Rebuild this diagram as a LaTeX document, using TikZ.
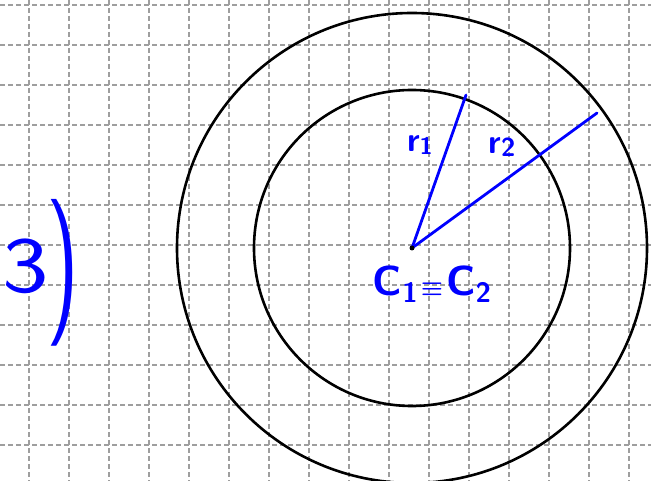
\documentclass[tikz,border=0pt]{standalone}
\usepackage{graphicx}
\begin{document}
\begin{tikzpicture}[x=1pt,y=-1pt,
  gridline/.style={draw=black!38,line width=1.6pt,dash pattern=on 5pt off 3pt},
  ring/.style={draw=black,line width=2.6pt},
  rline/.style={draw=blue,line width=2.8pt,line cap=round},
  hand/.style={text=blue,inner sep=0pt}]
\useasboundingbox (0,0) rectangle (651,481);
\fill[white] (0,0) rectangle (651,481);
\foreach \x in {29,69,...,629} \draw[gridline] (\x,0) -- (\x,481);
\foreach \y in {5,45,...,445} \draw[gridline] (0,\y) -- (651,\y);
\coordinate (O) at (412,248);
\draw[ring] (O) circle[radius=158pt];
\draw[ring] (O) circle[radius=235pt];
\coordinate (P1) at (466,95);
\coordinate (P2) at (597,113);
\draw[rline] (O) -- (P1);
\draw[rline] (O) -- (P2);
\fill (O) circle[radius=2.5pt];
\node[hand,font=\sffamily\bfseries\fontsize{34}{34}\selectfont] (r1) at (420,145)
  {r\raisebox{-3pt}{\fontsize{24}{24}\selectfont 1}};
\node[hand,font=\sffamily\bfseries\fontsize{34}{34}\selectfont] (r2) at (502,147)
  {r\raisebox{-3pt}{\fontsize{26}{26}\selectfont 2}};
\node[hand,font=\sffamily\bfseries\fontsize{42}{42}\selectfont] (c) at (432,284)
  {C\raisebox{-7pt}{\fontsize{28}{28}\selectfont 1}\kern3pt{\fontsize{50}{50}\selectfont\boldmath$\equiv$}\kern3pt C\raisebox{-7pt}{\fontsize{28}{28}\selectfont 2}};
\node[hand,font=\sffamily\fontsize{76}{76}\selectfont] (three) at (26,266) {\scalebox{1.3}[1.05]{3}};
\node[hand,font=\sffamily\fontsize{60}{60}\selectfont] (paren) at (63,273) {\scalebox{1.5}[2.45]{)}};
\end{tikzpicture}
\end{document}
